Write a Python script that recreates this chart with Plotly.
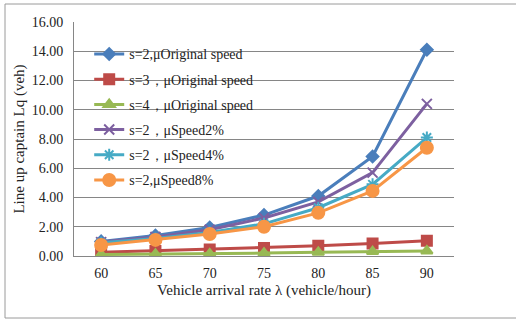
import plotly.graph_objects as go

categories = ["60", "65", "70", "75", "80", "85", "90"]
s2_original = [1.00, 1.40, 1.95, 2.80, 4.10, 6.80, 14.10]
s3_original = [0.25, 0.35, 0.45, 0.55, 0.70, 0.85, 1.05]
s4_original = [0.10, 0.12, 0.15, 0.20, 0.25, 0.30, 0.35]
s2_speed2 = [0.95, 1.30, 1.80, 2.60, 3.70, 5.70, 10.40]
s2_speed4 = [0.90, 1.20, 1.60, 2.20, 3.30, 4.90, 8.10]
s2_speed8 = [0.75, 1.10, 1.50, 2.00, 2.95, 4.45, 7.40]

series = [
    ("s=2,μOriginal speed", s2_original, "#4A7EBB", "diamond", 9),
    ("s=3，μOriginal speed", s3_original, "#BE4B48", "square", 10),
    ("s=4，μOriginal speed", s4_original, "#98B954", "triangle-up", 10),
    ("s=2，μSpeed2%", s2_speed2, "#7D60A0", "x-thin-open", 10),
    ("s=2，μSpeed4%", s2_speed4, "#46AAC5", "asterisk-open", 10),
    ("s=2,μSpeed8%", s2_speed8, "#F79646", "circle", 12),
]

fig = go.Figure()
for i, (name, vals, color, sym, size) in enumerate(series):
    fig.add_trace(go.Scatter(
        x=categories, y=vals, name=name, mode="lines+markers",
        legendgroup=f"g{i}",
        line=dict(color=color, width=3),
        marker=dict(symbol=sym, size=size, color=color,
                    line=dict(color=color, width=2)),
    ))

ff = "Liberation Serif"
fig.update_layout(
    width=516, height=320,
    margin=dict(l=74, r=62, t=22, b=64, autoexpand=False),
    paper_bgcolor="white", plot_bgcolor="white",
    font=dict(family=ff, size=13, color="#222222"),
    showlegend=True,
    legend=dict(x=0.04, y=0.93, xanchor="left", yanchor="top",
                bgcolor="rgba(0,0,0,0)", font=dict(size=14, family=ff, color="#222222"),
                traceorder="grouped", tracegroupgap=4, itemwidth=30),
    xaxis=dict(type="category", showgrid=False, showline=True, linecolor="#868686",
               linewidth=1, ticks="", tickfont=dict(size=14, family=ff, color="#222222"),
               automargin=False, ticklabelstandoff=4,
               title=dict(text="Vehicle arrival rate λ (vehicle/hour)",
                          font=dict(size=15, family=ff, color="#222222"), standoff=4),
               range=[-0.5, 6.5]),
    yaxis=dict(range=[0, 16], dtick=2, tickformat=".2f", showgrid=True,
               gridcolor="#868686", gridwidth=1, showline=True, linecolor="#868686",
               linewidth=1, zeroline=False, ticks="", automargin=False,
               ticklabelstandoff=7,
               tickfont=dict(size=14, family=ff, color="#222222"),
               title=dict(text="Line up captain Lq (veh)",
                          font=dict(size=15, family=ff, color="#222222"), standoff=3)),
    shapes=[dict(type="rect", xref="paper", yref="paper",
                 x0=(5 - 74) / 380, x1=(517 - 74) / 380,
                 y0=(256 - 318) / 234, y1=(256 - 4) / 234,
                 line=dict(color="#9a9a9a", width=1), layer="below")],
)

fig.write_html("out.html", config={"displayModeBar": False},
               post_script="document.body.style.margin='0';")
